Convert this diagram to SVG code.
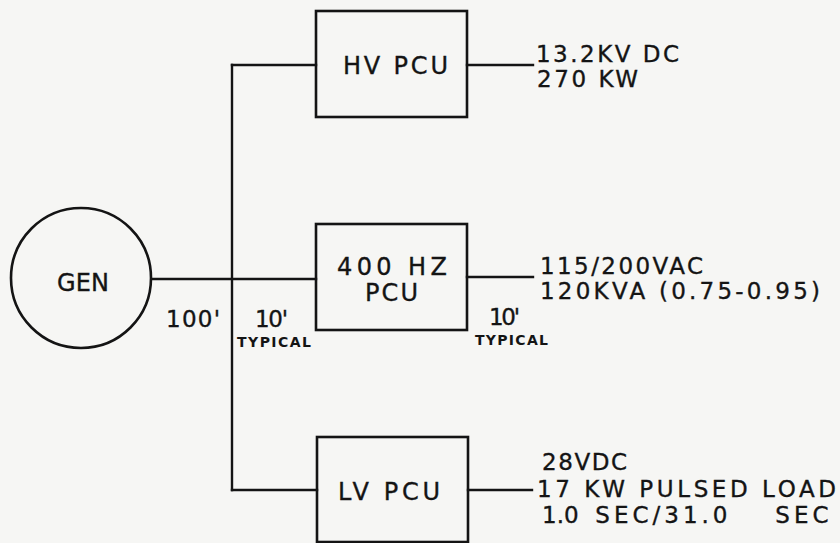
<svg xmlns="http://www.w3.org/2000/svg" width="840" height="543" viewBox="0 0 840 543">
<style>
.bg{fill:#f6f6f4}
.shape{fill:none;stroke:#141414;stroke-width:2.6}
.wire{fill:none;stroke:#141414;stroke-width:2.4;stroke-linecap:square}
text{font-family:"DejaVu Sans","Liberation Sans",Arial,sans-serif;fill:#141414;stroke:#141414;stroke-width:0.35}
.big{font-size:24px}
.lbl{font-size:23px}
.small{font-size:14px;font-weight:bold;stroke-width:0}
</style>
<rect class="bg" x="0" y="0" width="840" height="543"/>
<g id="connectors">
<line class="wire" x1="152" y1="279" x2="316" y2="279"/>
<line class="wire" x1="232" y1="65" x2="232" y2="490"/>
<line class="wire" x1="232" y1="65" x2="316" y2="65"/>
<line class="wire" x1="232" y1="490" x2="317" y2="490"/>
<line class="wire" x1="467" y1="65" x2="533" y2="65"/>
<line class="wire" x1="467" y1="277" x2="533" y2="277"/>
<line class="wire" x1="468" y1="490" x2="532" y2="490"/>
</g>
<g id="gen">
<circle class="shape" cx="81" cy="278" r="70"/>
<text class="big" x="57" y="291" textLength="52" lengthAdjust="spacing">GEN</text>
</g>
<g id="hv-pcu">
<rect class="shape" x="316" y="11" width="151" height="106"/>
<text class="big" x="343" y="74" textLength="105" lengthAdjust="spacing">HV PCU</text>
</g>
<g id="hz-pcu">
<rect class="shape" x="316" y="224" width="151" height="106"/>
<text class="big" x="337" y="275" textLength="110" lengthAdjust="spacing">400 HZ</text>
<text class="big" x="365" y="301" textLength="53" lengthAdjust="spacing">PCU</text>
</g>
<g id="lv-pcu">
<rect class="shape" x="317" y="437" width="151" height="105"/>
<text class="big" x="338" y="500" textLength="102" lengthAdjust="spacing">LV PCU</text>
</g>
<g id="labels">
<text class="lbl" x="536" y="62" textLength="143" lengthAdjust="spacing">13.2KV DC</text>
<text class="lbl" x="537" y="87" textLength="101" lengthAdjust="spacing">270 KW</text>
<text class="lbl" x="540" y="274" textLength="163" lengthAdjust="spacing">115/200VAC</text>
<text class="lbl" x="540" y="299" textLength="280" lengthAdjust="spacing">120KVA (0.75-0.95)</text>
<text class="lbl" x="166" y="327" textLength="54" lengthAdjust="spacing">100'</text>
<text class="lbl" x="255" y="327" textLength="33" lengthAdjust="spacing">10'</text>
<text class="small" x="237" y="347" textLength="74" lengthAdjust="spacing">TYPICAL</text>
<text class="lbl" x="489" y="325" textLength="31" lengthAdjust="spacing">10'</text>
<text class="small" x="475" y="345" textLength="73" lengthAdjust="spacing">TYPICAL</text>
<text class="lbl" x="542" y="470" textLength="85" lengthAdjust="spacing">28VDC</text>
<text class="lbl" x="537" y="497" textLength="299" lengthAdjust="spacing">17 KW PULSED LOAD</text>
<text class="lbl" y="523"><tspan x="542">1.0</tspan><tspan x="584" letter-spacing="4"> SEC/31.0</tspan><tspan x="764" letter-spacing="4"> SEC</tspan></text>
</g>
</svg>
